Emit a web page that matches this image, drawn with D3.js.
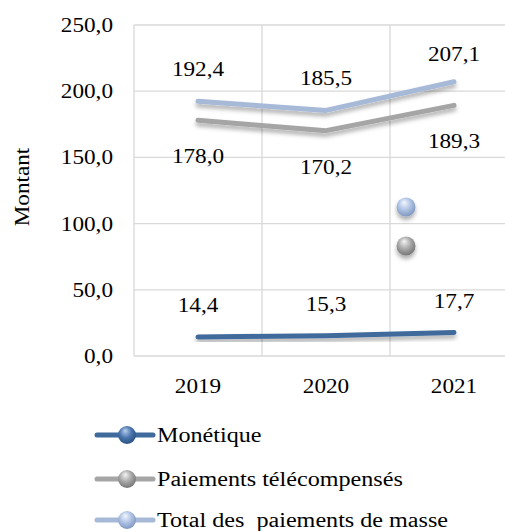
<!DOCTYPE html>
<html>
<head>
<meta charset="utf-8">
<script src="https://cdn.jsdelivr.net/npm/d3@7"></script>
<style>
  html, body { margin: 0; padding: 0; background: #ffffff; }
</style>
</head>
<body>
<script>
/** chart data */
const years = ["2019", "2020", "2021"];
const monetique = [14.4, 15.3, 17.7];
const telecompenses = [178.0, 170.2, 189.3];
const totalMasse = [192.4, 185.5, 207.1];
const yTicks = [0, 50, 100, 150, 200, 250];
const seriesNames = ["Monétique", "Paiements télécompensés", "Total des  paiements de masse"];
// two loose markers sitting in the 2021 column (position in category units, value)
const strayPos = [1.625, 1.625];
const strayValues = [112.5, 83.1];
const straySeries = [2, 1];

/** layout */
const width = 505, height = 531;
const plotLeft = 134, plotRight = 518, plotTop = 25, plotBottom = 356;
const colors = ["#3f6a9c", "#a5a5a5", "#a6b9d7"];
const stretch = 1.16;
const fontSize = 20;
const serif = "'Liberation Serif', 'Times New Roman', 'DejaVu Serif', serif";

var svg = d3.select("body").append("svg")
    .attr("width", width)
    .attr("height", height);

var defs = svg.append("defs");
var shadow = defs.append("filter").attr("id", "shadow")
    .attr("x", "-20%").attr("y", "-50%").attr("width", "140%").attr("height", "250%");
shadow.append("feDropShadow")
    .attr("dx", 0).attr("dy", 3.5).attr("stdDeviation", 2.2)
    .attr("flood-color", "#000").attr("flood-opacity", 0.32);

// sphere gradients
const sphereStops = [
    ["#b7cdf0", "#4a76ad", "#2b5283"],
    ["#f4f4f4", "#a8a8a8", "#777777"],
    ["#f3f7ff", "#aec2e3", "#7f97c0"]
];
sphereStops.forEach((s, i) => {
    let g = defs.append("radialGradient").attr("id", "sphere" + i)
        .attr("cx", "45%").attr("cy", "40%").attr("r", "60%").attr("fx", "40%").attr("fy", "25%");
    g.append("stop").attr("offset", "0%").attr("stop-color", s[0]);
    g.append("stop").attr("offset", "55%").attr("stop-color", s[1]);
    g.append("stop").attr("offset", "100%").attr("stop-color", s[2]);
});

var x_scale = d3.scaleBand().domain(years).range([plotLeft, plotRight]).padding(0);
var xPos = d3.scaleLinear().domain([0, years.length - 1])
    .range([x_scale(years[0]) + x_scale.bandwidth() / 2, x_scale(years[years.length - 1]) + x_scale.bandwidth() / 2]);
var y_scale = d3.scaleLinear().domain([0, 250]).range([plotBottom, plotTop]);

function stretchedText(g, x, y, txt, anchor, rotate, size) {
    return g.append("text")
        .attr("transform", "translate(" + x + "," + y + ")" + (rotate ? " rotate(" + rotate + ")" : "") + " scale(" + stretch + ",1)")
        .attr("text-anchor", anchor)
        .attr("font-family", serif)
        .attr("font-size", size || fontSize)
        .attr("fill", "#000")
        .style("font-family", serif)
        .text(txt);
}

// gridlines
var grid = svg.append("g");
grid.selectAll("line.h").data(yTicks).enter().append("line")
    .attr("x1", plotLeft).attr("x2", plotRight)
    .attr("y1", d => y_scale(d)).attr("y2", d => y_scale(d))
    .attr("stroke", "#d9d9d9").attr("stroke-width", 1.3);
grid.selectAll("line.v").data(years).enter().append("line")
    .attr("x1", d => x_scale(d)).attr("x2", d => x_scale(d))
    .attr("y1", plotTop).attr("y2", plotBottom)
    .attr("stroke", "#d9d9d9").attr("stroke-width", 1.3);

// y axis labels
var fmt = d => d.toFixed(1).replace(".", ",");
var yAxis = svg.append("g");
yTicks.forEach(t => stretchedText(yAxis, 113, y_scale(t) + 7, fmt(t), "end"));
stretchedText(svg, 29, 187, "Montant", "middle", -90);

// x axis labels
var xAxis = svg.append("g");
years.forEach(yr => stretchedText(xAxis, x_scale(yr) + x_scale.bandwidth() / 2, 393, yr, "middle"));

// lines
const series = [monetique, telecompenses, totalMasse];
var line = d3.line().x((d, i) => xPos(i)).y(d => y_scale(d));
series.forEach((s, i) => {
    svg.append("path")
        .datum(s)
        .attr("d", line)
        .attr("fill", "none")
        .attr("stroke", colors[i])
        .attr("stroke-width", 5)
        .attr("stroke-linecap", "round")
        .attr("stroke-linejoin", "round")
        .attr("filter", "url(#shadow)");
});

// data labels: offset above (-) or below (+) the line
const labelOffsets = [-25, 43, -25];
var labels = svg.append("g");
series.forEach((s, i) => {
    s.forEach((v, j) => {
        let off = labelOffsets[i];
        if (i == 2 && j == 2) off = -21;
        stretchedText(labels, xPos(j), y_scale(v) + off, fmt(v), "middle");
    });
});

// stray markers
strayValues.forEach((v, k) => {
    svg.append("circle")
        .attr("cx", xPos(strayPos[k]))
        .attr("cy", y_scale(v))
        .attr("r", 9.5)
        .attr("fill", "url(#sphere" + straySeries[k] + ")")
        .attr("filter", "url(#shadow)");
});

// legend
var legend = svg.append("g");
const legendRows = [435, 479, 520];
seriesNames.forEach((name, i) => {
    legend.append("line")
        .attr("x1", 97).attr("x2", 153)
        .attr("y1", legendRows[i]).attr("y2", legendRows[i])
        .attr("stroke", colors[i]).attr("stroke-width", 5)
        .attr("stroke-linecap", "round");
    legend.append("circle")
        .attr("cx", 127).attr("cy", legendRows[i]).attr("r", 9)
        .attr("fill", "url(#sphere" + i + ")");
    stretchedText(legend, 157, legendRows[i] + 7, name, "start", 0, 20.8).style("white-space", "pre");
});
</script>
</body>
</html>
